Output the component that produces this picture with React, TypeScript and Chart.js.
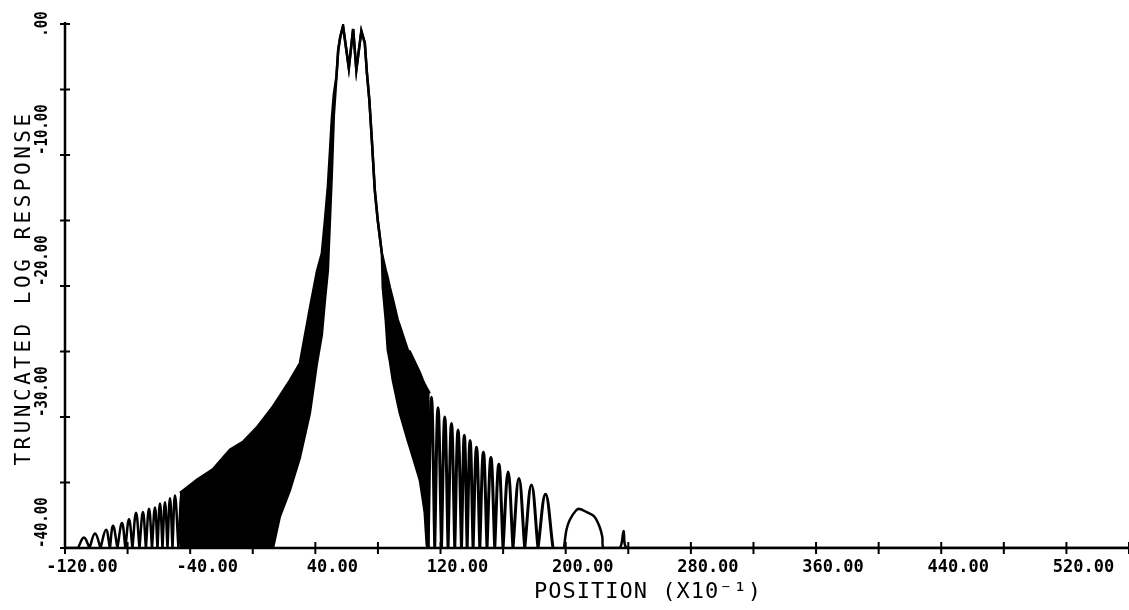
import React, { useEffect, useRef } from 'react';
import { Chart, registerables } from 'chart.js';

Chart.register(...registerables);

// ---- axis ranges & labels ----
const X_MIN = -120;
const X_MAX = 560;
const Y_MIN = -40;
const Y_MAX = 0;
const xLabelValues = [-120, -40, 40, 120, 200, 280, 360, 440, 520];
const yLabelValues = [0, -10, -20, -30, -40];
const xTitle = 'POSITION (X10\u207B\u00B9)';
const yTitle = 'TRUNCATED LOG RESPONSE';

// ---- left discrete side lobes ----
const leftTroughX = [-111.7, -104.35, -97.3, -91.3, -86.5, -81.4, -76.9, -72.4, -68.3, -64.4, -60.9, -57.7, -54.5, -51.3, -47.5, -42.7];
const leftPeakX = [-107.9, -100.8, -93.8, -89.3, -83.6, -79.1, -74.6, -70.2, -66.3, -62.5, -59.3, -56.1, -52.9, -49.7, -45.3];
const leftPeakY = [-39.2, -38.9, -38.6, -38.3, -38.1, -37.8, -37.3, -37.25, -37.0, -36.9, -36.6, -36.5, -36.2, -36.0, -35.7];

// ---- dense oscillation band (upper / lower envelopes) incl. main lobe ----
const bandX = [-46.55, -35.7, -25.5, -14.6, -6.3, 2.6, 12.9, 17.3, 23.7, 30.1, 36.5, 41.0, 44.15, 46.1, 48.0, 49.3, 50.5, 51.8, 53.5, 54.6, 55.9, 57.7, 61.4, 64.15, 66.2, 69.4, 71.6, 72.9, 74.5, 76.1, 78.0, 79.9, 82.5, 83.1, 85.0, 86.3, 87.6, 89.5, 92.7, 94.0, 99.1, 100.4, 106.75, 108.7, 109.9, 111.2, 113.1];
const bandUpper = [-35.8, -34.8, -34.0, -32.5, -31.9, -30.8, -29.2, -28.4, -27.2, -25.9, -21.7, -18.9, -17.5, -15.0, -12.4, -9.8, -7.3, -5.4, -4.0, -2.0, -1.0, -0.15, -3.36, -0.38, -3.5, -0.53, -1.45, -3.66, -5.8, -8.85, -12.7, -15.0, -17.5, -17.8, -18.8, -19.4, -20.1, -21.0, -22.6, -23.05, -24.9, -25.0, -26.6, -27.2, -27.5, -27.8, -28.2];
const bandLower = [-40, -40, -40, -40, -40, -40, -40, -37.6, -35.6, -33.1, -29.7, -25.9, -23.7, -21.1, -18.8, -15.0, -11.5, -7.0, -4.0, -2.0, -1.0, -0.15, -3.36, -0.38, -3.5, -0.53, -1.45, -3.66, -5.8, -8.85, -12.7, -15.0, -17.5, -20.1, -22.6, -24.9, -25.7, -27.2, -29.0, -29.7, -31.8, -32.3, -34.8, -36.3, -37.3, -39.8, -40];

// ---- right discrete side lobes ----
const rightTroughX = [112.05, 116.3, 120.6, 124.8, 129.1, 133.4, 137.0, 140.8, 145.1, 149.7, 154.65, 159.95, 166.3, 173.8, 182.3, 191.9];
const rightPeakX = [114.2, 118.4, 122.7, 127.0, 131.2, 135.2, 138.9, 143.0, 147.4, 152.2, 157.3, 163.2, 170.1, 178.1, 187.1];
const rightPeakY = [-28.5, -29.3, -30.0, -30.5, -31.0, -31.4, -31.8, -32.3, -32.7, -33.1, -33.6, -34.2, -34.7, -35.2, -35.9];

// ---- far right bumps and tail ----
const tailX = [198.9, 200.45, 202.56, 206.84, 208.95, 213.2, 218.5, 221.7, 223.4, 224.3, 234.5, 237.0, 239.6, 560];
const tailY = [-40, -38.63, -37.86, -37.1, -37.02, -37.25, -37.63, -38.4, -39.16, -40, -40, -38.7, -40, -40];

function lobeSeries(startX: number | null, troughX: number[], peakX: number[], peakY: number[]) {
  const pts: { x: number; y: number }[] = [];
  if (startX !== null) pts.push({ x: startX, y: Y_MIN });
  for (let i = 0; i < peakX.length; i++) {
    pts.push({ x: troughX[i], y: Y_MIN });
    pts.push({ x: troughX[i], y: Y_MIN });
    pts.push({ x: peakX[i], y: peakY[i] });
  }
  pts.push({ x: troughX[troughX.length - 1], y: Y_MIN });
  return pts;
}

const FONT_MONO = '"DejaVu Sans Mono", "Liberation Mono", monospace';

const plotterAxes = {
  id: 'plotterAxes',
  afterDraw(chart: any) {
    const { ctx, scales } = chart;
    const xs = scales.x;
    const ys = scales.y;
    const x0 = xs.getPixelForValue(X_MIN);
    const y0 = ys.getPixelForValue(Y_MIN);
    const yTop = ys.getPixelForValue(Y_MAX);
    ctx.save();
    ctx.strokeStyle = '#000';
    ctx.fillStyle = '#000';
    ctx.lineWidth = 2.5;
    ctx.beginPath();
    ctx.moveTo(x0, yTop - 2);
    ctx.lineTo(x0, y0);
    ctx.lineTo(xs.getPixelForValue(X_MAX), y0);
    ctx.stroke();

    ctx.lineWidth = 2;
    ctx.beginPath();
    (xs.ticks || []).forEach((t: any) => {
      const px = xs.getPixelForValue(t.value);
      ctx.moveTo(px, y0 - 6);
      ctx.lineTo(px, y0 + 6);
    });
    (ys.ticks || []).forEach((t: any) => {
      const py = ys.getPixelForValue(t.value);
      ctx.moveTo(x0 - 5, py);
      ctx.lineTo(x0 + 5, py);
    });
    ctx.stroke();

    // y tick labels (rotated, reading upward)
    ctx.font = 'bold 18px ' + FONT_MONO;
    ctx.textBaseline = 'alphabetic';
    yLabelValues.forEach((v) => {
      const py = ys.getPixelForValue(v);
      const txt = v === 0 ? '.00' : v.toFixed(2);
      ctx.save();
      ctx.translate(46.5, py);
      ctx.rotate(-Math.PI / 2);
      ctx.scale(0.78, 1);
      ctx.textAlign = v === 0 ? 'center' : 'left';
      ctx.fillText(txt, 0, 0);
      ctx.restore();
    });

    // y title
    ctx.save();
    ctx.font = '21px ' + FONT_MONO;
    (ctx as any).letterSpacing = '3.5px';
    ctx.translate(30, 288);
    ctx.rotate(-Math.PI / 2);
    ctx.textAlign = 'center';
    ctx.fillText(yTitle, 0, 0);
    ctx.restore();

    // x title
    ctx.save();
    ctx.font = '22px ' + FONT_MONO;
    (ctx as any).letterSpacing = '1px';
    ctx.textAlign = 'center';
    ctx.textBaseline = 'alphabetic';
    ctx.fillText(xTitle, 648, 598);
    ctx.restore();

    ctx.restore();
  },
};

export default function App() {
  const ref = useRef<HTMLCanvasElement | null>(null);

  useEffect(() => {
    if (!ref.current) return;
    const line = { borderColor: '#000', borderWidth: 2.5, pointRadius: 0, fill: false };
    const chart = new Chart(ref.current, {
      type: 'line',
      data: {
        datasets: [
          { ...line, label: 'left lobes', data: lobeSeries(X_MIN, leftTroughX, leftPeakX, leftPeakY), tension: 0.4 },
          {
            ...line,
            label: 'upper envelope',
            data: bandX.map((x, i) => ({ x, y: bandUpper[i] })),
            fill: '+1',
            backgroundColor: '#000',
            tension: 0,
          },
          { ...line, label: 'lower envelope', data: bandX.map((x, i) => ({ x, y: bandLower[i] })), tension: 0 },
          {
            ...line,
            label: 'right lobes',
            data: lobeSeries(null, rightTroughX, rightPeakX, rightPeakY),
            tension: 0.4,
            borderWidth: 3,
          },
          { ...line, label: 'tail', data: tailX.map((x, i) => ({ x, y: tailY[i] })), tension: 0.3 },
        ],
      },
      options: {
        responsive: false,
        devicePixelRatio: 1,
        animation: false,
        maintainAspectRatio: false,
        layout: { padding: { left: 65, right: 0, top: 24, bottom: 22 } },
        plugins: { legend: { display: false }, tooltip: { enabled: false } },
        scales: {
          x: {
            type: 'linear',
            min: X_MIN,
            max: X_MAX,
            grid: { display: false, drawTicks: false },
            border: { display: false },
            ticks: {
              stepSize: 40,
              autoSkip: false,
              maxRotation: 0,
              minRotation: 0,
              padding: 0,
              labelOffset: 17,
              color: '#000',
              font: { family: FONT_MONO, size: 17, weight: 'bold', lineHeight: 40 / 17 },
              callback: (v: any) => (xLabelValues.includes(Number(v)) ? Number(v).toFixed(2) : ''),
            },
          },
          y: {
            type: 'linear',
            min: Y_MIN,
            max: Y_MAX,
            display: false,
            ticks: { stepSize: 5 },
          },
        },
      } as any,
      plugins: [plotterAxes],
    });
    return () => chart.destroy();
  }, []);

  return (
    <div style={{ position: 'absolute', left: 0, top: 0, width: 1129, height: 610, background: '#fff' }}>
      <canvas ref={ref} width={1129} height={610} style={{ display: 'block', width: 1129, height: 610 }} />
    </div>
  );
}
